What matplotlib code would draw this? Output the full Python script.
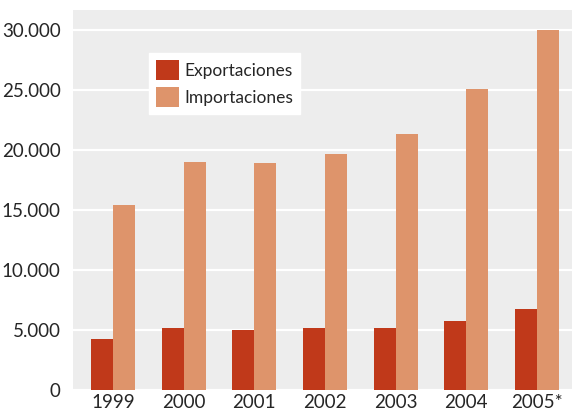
import numpy as np
import matplotlib.pyplot as plt

# --- datos ---
years = ['1999', '2000', '2001', '2002', '2003', '2004', '2005*']
exportaciones = [4200, 5100, 5000, 5100, 5100, 5700, 6700]
importaciones = [15400, 19000, 18900, 19600, 21300, 25050, 29950]
y_ticks = [0, 5000, 10000, 15000, 20000, 25000, 30000]
y_labels = ['0', '5.000', '10.000', '15.000', '20.000', '25.000', '30.000']

plt.rcParams['font.family'] = ['Lato', 'DejaVu Sans']

fig = plt.figure(figsize=(5.72, 4.08), dpi=100)
ax = fig.add_axes([0.128, 0.0453, 0.872, 0.930])
ax.set_facecolor('#ededed')

x = np.arange(len(years))
w = 0.311
ax.bar(x - w / 2, exportaciones, w, color='#c0391a', label='Exportaciones', zorder=3)
ax.bar(x + w / 2, importaciones, w, color='#de946b', label='Importaciones', zorder=3)

ax.set_xlim(-0.562, 6.495)
ax.set_ylim(0, 31625)
ax.set_yticks(y_ticks)
ax.set_yticklabels(y_labels)
ax.set_xticks(x)
ax.set_xticklabels(years)
ax.grid(axis='y', color='white', linewidth=1.6, zorder=1)
ax.set_axisbelow(True)

for s in ax.spines.values():
    s.set_visible(False)
ax.tick_params(axis='both', length=0, labelsize=13.5, colors='#262626')
ax.tick_params(axis='y', pad=9)
ax.tick_params(axis='x', pad=3)

leg = ax.legend(loc='upper left', bbox_to_anchor=(0.152, 0.887), borderaxespad=0,
                fontsize=12.5, frameon=True, fancybox=False, framealpha=1,
                edgecolor='white', handlelength=1.35, handleheight=1.4,
                handletextpad=0.3, labelspacing=0.4, borderpad=0.4)
for t in leg.get_texts():
    t.set_color('#262626')

plt.savefig('out.png', dpi=100)
